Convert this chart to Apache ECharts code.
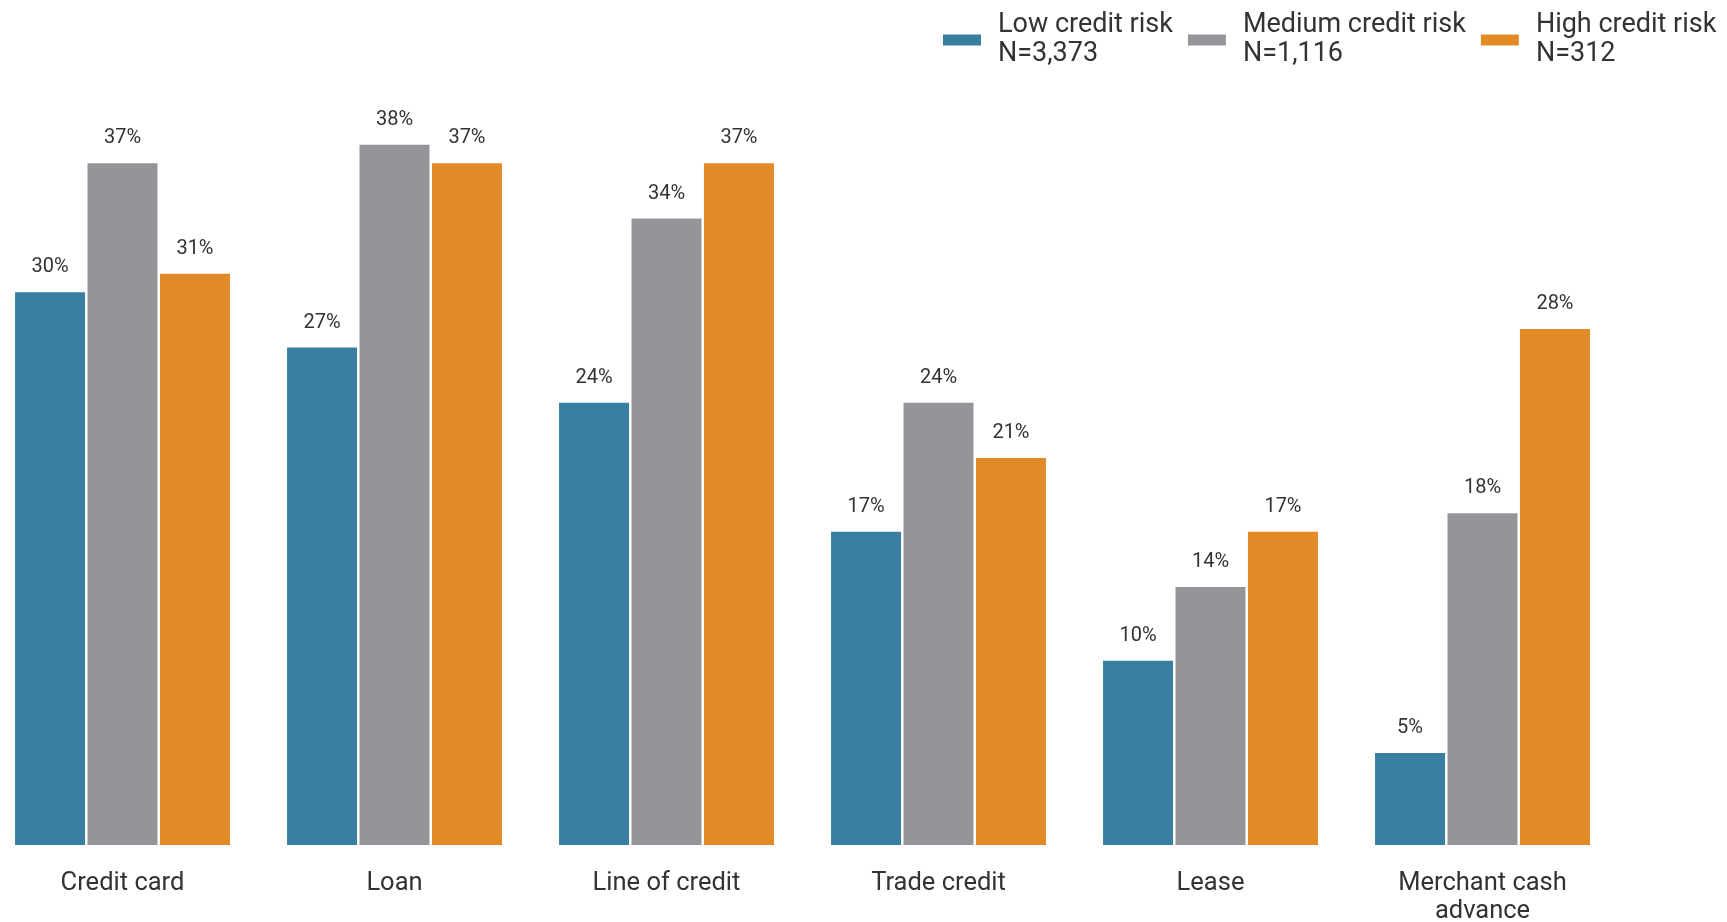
<!DOCTYPE html>
<html>
<head>
<meta charset="utf-8">
<script src="https://cdn.jsdelivr.net/npm/echarts@6/dist/echarts.min.js"></script>
<style>html,body{margin:0;padding:0;background:#fff}#c{width:1727px;height:922px}</style>
</head>
<body>
<div id="c"></div>
<script>
const categories = ['Credit card', 'Loan', 'Line of credit', 'Trade credit', 'Lease', 'Merchant cash\nadvance'];
const seriesNames = ['Low credit risk\nN=3,373', 'Medium credit risk\nN=1,116', 'High credit risk\nN=312'];
const lowRisk = [30, 27, 24, 17, 10, 5];
const mediumRisk = [37, 38, 34, 24, 14, 18];
const highRisk = [31, 37, 37, 21, 17, 28];

const colors = ['#377ea0', '#949599', '#e28b26'];
const font = 'Roboto, "Noto Sans", sans-serif';
const chart = echarts.init(document.getElementById('c'));
const mk = (name, data, color) => ({
  name, type: 'bar', data, barWidth: 70, barGap: '3.5%',
  itemStyle: { color },
  label: { show: true, position: 'top', distance: 15, formatter: '{c}%', fontFamily: font, fontSize: 20, color: '#333' }
});
chart.setOption({
  animation: false,
  color: colors,
  legend: {
    left: 938, top: 6, itemWidth: 38, itemHeight: 11, itemGap: 15,
    icon: 'rect',
    textStyle: { fontFamily: font, fontSize: 27, color: '#333', lineHeight: 29, padding: [0, 0, 0, 12] }
  },
  grid: { left: -13.5, right: 108.5, top: 108, bottom: 77, outerBoundsMode: 'none', containLabel: false },
  xAxis: {
    type: 'category', data: categories,
    axisLine: { show: false }, axisTick: { show: false },
    axisLabel: { fontFamily: font, fontSize: 25.5, color: '#333', lineHeight: 27.5, margin: 25, interval: 0 }
  },
  yAxis: { type: 'value', min: 0, max: 40, show: false, splitLine: { show: false } },
  series: [mk(seriesNames[0], lowRisk, colors[0]), mk(seriesNames[1], mediumRisk, colors[1]), mk(seriesNames[2], highRisk, colors[2])]
});
</script>
</body>
</html>
